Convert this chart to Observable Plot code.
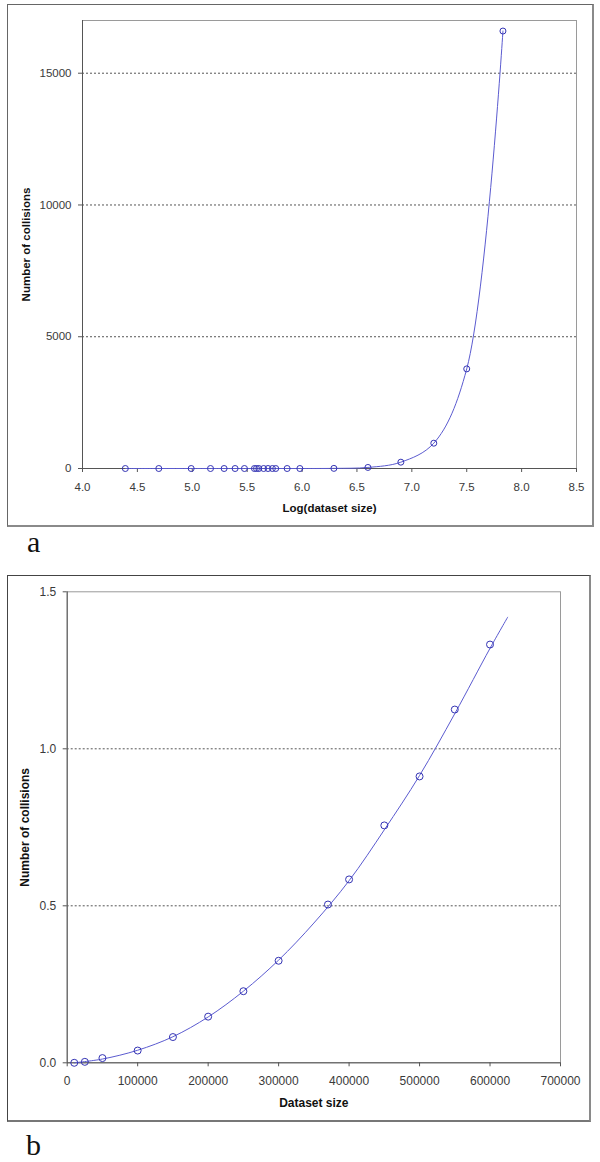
<!DOCTYPE html>
<html><head><meta charset="utf-8">
<script src="https://cdn.jsdelivr.net/npm/d3@7"></script>
<script src="https://cdn.jsdelivr.net/npm/@observablehq/plot@0.6"></script>
<style>
body{margin:0;background:#fff;width:600px;height:1162px;position:relative;overflow:hidden;font-family:"Liberation Sans",Arial,sans-serif;}
.frame{position:absolute;box-sizing:border-box;border:1px solid #666;border-right:2px solid #8a8a8a;border-bottom:2px solid #8a8a8a;pointer-events:none;z-index:2;}
.panel{position:absolute;left:0;z-index:1;}
.tag{position:absolute;font-family:"Liberation Serif","Times New Roman",serif;font-size:30px;line-height:normal;color:#111;}
</style></head><body>
<div class="panel" id="pa" style="top:0px"></div>
<div class="frame" style="left:7px;top:4px;width:587px;height:523px"></div>
<div class="tag" style="left:27px;top:525px">a</div>
<div class="panel" id="pb" style="top:560px"></div>
<div class="frame" style="left:7px;top:575px;width:584px;height:547px;border-color:#444;border-right-color:#8a8a8a;border-bottom-color:#777"></div>
<div class="tag" style="left:26px;top:1128px">b</div>
<script>
// Panel a: log10(dataset size) vs number of collisions
const logSizeA = [4.39, 4.695, 4.99, 5.166, 5.29, 5.39, 5.475, 5.566, 5.585, 5.606, 5.65, 5.69, 5.73, 5.76, 5.864, 5.98, 6.29, 6.6, 6.9, 7.2, 7.5, 7.83];
const collisionsA = [0, 0, 0, 0, 0, 0, 0, 0, 0, 0, 0, 0, 0, 0, 0, 0, 5, 40, 240, 960, 3780, 16600];
const xTicksA = [4.0, 4.5, 5.0, 5.5, 6.0, 6.5, 7.0, 7.5, 8.0, 8.5];
const yTicksA = [0, 5000, 10000, 15000];
const yGridA = [5000, 10000, 15000];

// Panel b: dataset size vs number of collisions
const sizeB = [10000, 25000, 50000, 100000, 150000, 200000, 250000, 300000, 370000, 400000, 450000, 500000, 550000, 600000];
const collisionsB = [0.0, 0.003, 0.015, 0.039, 0.082, 0.147, 0.228, 0.325, 0.504, 0.584, 0.756, 0.912, 1.125, 1.332];
// trend line
const trendSizeB = [10000, 50000, 100000, 150000, 200000, 250000, 300000, 350000, 400000, 450000, 500000, 550000, 600000, 625000];
const trendCollB = [0.0, 0.012, 0.040, 0.083, 0.146, 0.228, 0.327, 0.445, 0.580, 0.742, 0.915, 1.112, 1.320, 1.419];
const xTicksB = [0, 100000, 200000, 300000, 400000, 500000, 600000, 700000];
const yTicksB = [0, 0.5, 1.0, 1.5];
const yGridB = [0.5, 1.0];

const lineColor = "#5b5bd0";
const dotColor = "#3434b4";
const axisColor = "#555";

const ptsA = logSizeA.map((x, i) => ({x, y: collisionsA[i]}));
const chartA = Plot.plot({
  width: 600, height: 560,
  marginLeft: 82, marginRight: 24, marginTop: 20, marginBottom: 92,
  style: {background: "transparent", fontFamily: "Liberation Sans, Arial, sans-serif", fontSize: "11.5px", color: "#3a3a3a", overflow: "visible"},
  x: {domain: [4, 8.5]},
  y: {domain: [0, 17000]},
  marks: [
    Plot.ruleY(yGridA, {stroke: "#555", strokeDasharray: "2,2"}),
    Plot.frame({stroke: "#9a9a9a"}),
    Plot.axisX({ticks: xTicksA, tickFormat: d3.format(".1f"), tickSize: 4, tickPadding: 10, label: null, stroke: axisColor}),
    Plot.axisY({ticks: yTicksA, tickFormat: d3.format("d"), tickSize: 4, tickPadding: 7, label: null, stroke: axisColor}),
    Plot.ruleX([4], {stroke: axisColor}),
    Plot.ruleY([0], {stroke: axisColor}),
    Plot.line(ptsA, {x: "x", y: "y", curve: "catmull-rom", stroke: lineColor, strokeWidth: 1}),
    Plot.dot(ptsA, {x: "x", y: "y", r: 3, stroke: dotColor, strokeWidth: 1, fill: "none"}),
    Plot.text(["Number of collisions"], {text: d => d, frameAnchor: "left", textAnchor: "middle", lineAnchor: "middle", rotate: -90, dx: -56, fontWeight: "bold", fontSize: 11.5, fill: "#111"}),
    Plot.text(["Log(dataset size)"], {text: d => d, frameAnchor: "bottom", textAnchor: "middle", lineAnchor: "middle", dy: 39.7, fontWeight: "bold", fontSize: 11.5, fill: "#111"})
  ]
});
document.getElementById("pa").appendChild(chartA);

const ptsB = sizeB.map((x, i) => ({x, y: collisionsB[i]}));
const trendB = trendSizeB.map((x, i) => ({x, y: trendCollB[i]}));
const chartB = Plot.plot({
  width: 600, height: 602,
  marginLeft: 66.7, marginRight: 40, marginTop: 31.3, marginBottom: 99.7,
  style: {background: "transparent", fontFamily: "Liberation Sans, Arial, sans-serif", fontSize: "12px", color: "#3a3a3a", overflow: "visible"},
  x: {domain: [0, 700000]},
  y: {domain: [0, 1.5]},
  marks: [
    Plot.ruleY(yGridB, {stroke: "#555", strokeDasharray: "2,2"}),
    Plot.frame({stroke: "#9a9a9a"}),
    Plot.axisX({ticks: xTicksB, tickFormat: d3.format("d"), tickSize: 4, tickPadding: 9.5, label: null, stroke: axisColor}),
    Plot.axisY({ticks: yTicksB, tickFormat: d3.format(".1f"), tickSize: 4, tickPadding: 7, label: null, stroke: axisColor}),
    Plot.ruleX([0], {stroke: axisColor}),
    Plot.ruleY([0], {stroke: axisColor}),
    Plot.line(trendB, {x: "x", y: "y", curve: "catmull-rom", stroke: lineColor, strokeWidth: 1}),
    Plot.dot(ptsB, {x: "x", y: "y", r: 3.5, stroke: dotColor, strokeWidth: 1, fill: "none"}),
    Plot.text(["Number of collisions"], {text: d => d, frameAnchor: "left", textAnchor: "middle", lineAnchor: "middle", rotate: -90, dx: -41.7, fontWeight: "bold", fontSize: 12, fill: "#111"}),
    Plot.text(["Dataset size"], {text: d => d, frameAnchor: "bottom", textAnchor: "middle", lineAnchor: "middle", dy: 40, fontWeight: "bold", fontSize: 12, fill: "#111"})
  ]
});
document.getElementById("pb").appendChild(chartB);
</script>
</body></html>
